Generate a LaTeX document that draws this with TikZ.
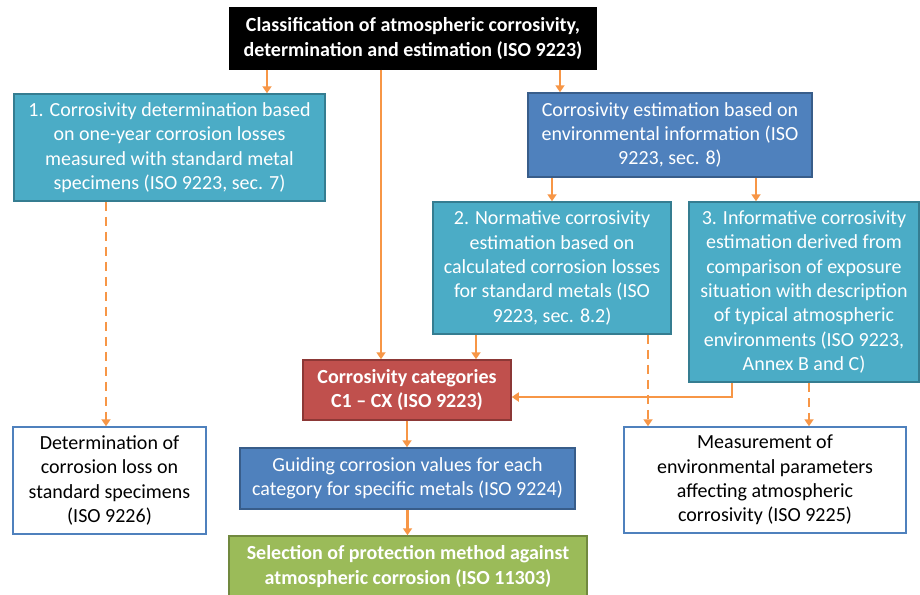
\documentclass[tikz,border=0pt]{standalone}
\usepackage{fontspec}
\setmainfont{Carlito}
\usepackage{tikz}
\usetikzlibrary{positioning, arrows.meta}

\definecolor{tealfill}{HTML}{4BACC6}
\definecolor{tealline}{HTML}{357D91}
\definecolor{bluefill}{HTML}{4F81BD}
\definecolor{blueline}{HTML}{385D8A}
\definecolor{redfill}{HTML}{C0504D}
\definecolor{redline}{HTML}{8C3836}
\definecolor{greenfill}{HTML}{9BBB59}
\definecolor{greenline}{HTML}{71893F}
\definecolor{arrowcol}{HTML}{F79646}

\tikzset{
  box/.style={draw, line width=1.5pt, align=center, inner sep=1pt,
    font=\fontsize{20}{24.4}\selectfont},
  tealbox/.style={box, fill=tealfill, draw=tealline, text=white},
  bluebox/.style={box, fill=bluefill, draw=blueline, text=white},
  redbox/.style={box, fill=redfill, draw=redline, text=white, font=\fontsize{20}{24.4}\selectfont\bfseries},
  greenbox/.style={box, fill=greenfill, draw=greenline, text=white, font=\fontsize{20}{24.4}\selectfont\bfseries},
  blackbox/.style={box, fill=black, draw=black, text=white, font=\fontsize{20}{24.4}\selectfont\bfseries},
  whitebox/.style={box, fill=white, draw=bluefill, text=black},
  arr/.style={draw=arrowcol, line width=2.5pt, -{Triangle[width=9pt,length=7pt]}},
  dasharr/.style={arr, dash pattern=on 9pt off 6pt},
}

\begin{document}
\begin{tikzpicture}[x=1pt, y=-1pt]
  \useasboundingbox [fill=white] (0,0) rectangle (920,594);

  % boxes
  \node [blackbox, minimum width=366pt, minimum height=61pt] (top) at (413,38.5)
    {Classification of atmospheric corrosivity,\\determination and estimation (ISO 9223)};
  \node [tealbox, minimum width=311pt, minimum height=107pt] (det1) at (169.5,147.5)
    {1. Corrosivity determination based\\on one-year corrosion losses\\measured with standard metal\\specimens (ISO 9223, sec. 7)};
  \node [bluebox, minimum width=284pt, minimum height=84pt] (estim) at (670,135)
    {Corrosivity estimation based on\\environmental information (ISO\\9223, sec. 8)};
  \node [tealbox, minimum width=238pt, minimum height=132pt] (norm2) at (552,268)
    {2. Normative corrosivity\\estimation based on\\calculated corrosion losses\\for standard metals (ISO\\9223, sec. 8.2)};
  \node [tealbox, minimum width=230pt, minimum height=180pt] (info3) at (804,292)
    {3. Informative corrosivity\\estimation derived from\\comparison of exposure\\situation with description\\of typical atmospheric\\environments (ISO 9223,\\Annex B and C)};
  \node [redbox, minimum width=208pt, minimum height=60pt] (cat) at (407,390)
    {Corrosivity categories\\C1 -- CX (ISO 9223)};
  \node [bluebox, minimum width=335pt, minimum height=61pt] (guide) at (407.5,478.5)
    {Guiding corrosion values for each\\category for specific metals (ISO 9224)};
  \node [greenbox, minimum width=358pt, minimum height=61pt] (select) at (408,566.5)
    {Selection of protection method against\\atmospheric corrosion (ISO 11303)};
  \node [whitebox, minimum width=193pt, minimum height=107pt] (loss) at (109.5,480.5)
    {Determination of\\corrosion loss on\\standard specimens\\(ISO 9226)};
  \node [whitebox, minimum width=282pt, minimum height=106pt] (meas) at (765,480)
    {Measurement of\\environmental parameters\\affecting atmospheric\\corrosivity (ISO 9225)};

  % connectors
  \draw [arr] (top.south -| 267,0) -- (det1.north -| 267,0);
  \draw [arr] (top.south -| 381,0) -- (cat.north -| 381,0);
  \draw [arr] (top.south -| 560,0) -- (estim.north -| 560,0);
  \draw [dasharr] (det1.south -| 106,0) -- (loss.north -| 106,0);
  \draw [arr] (estim.south -| 552,0) -- (norm2.north -| 552,0);
  \draw [arr] (estim.south -| 756,0) -- (info3.north -| 756,0);
  \draw [arr] (norm2.south -| 476,0) -- (cat.north -| 476,0);
  \draw [dasharr] (norm2.south -| 648,0) -- (meas.north -| 648,0);
  \draw [arr] (info3.south -| 732,0) |- ([yshift=-7pt]cat.east);
  \draw [dasharr] (info3.south -| 809,0) -- (meas.north -| 809,0);
  \draw [arr] (cat.south) -- (cat.south |- guide.north);
  \draw [arr] (guide.south) -- (guide.south |- select.north);
\end{tikzpicture}
\end{document}
